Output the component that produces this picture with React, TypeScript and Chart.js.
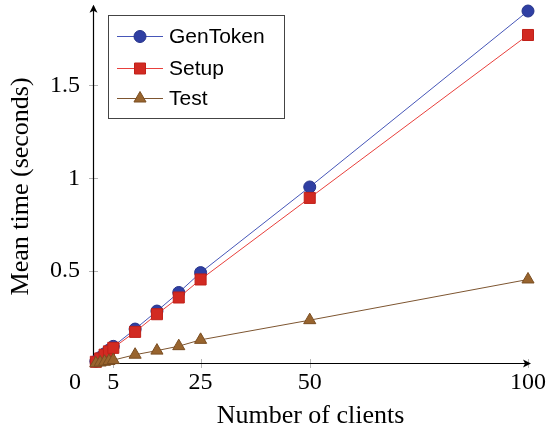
import React, { useEffect, useRef } from "react";
import { Chart, registerables } from "chart.js";

Chart.register(...registerables);

const clients = [1, 2, 3, 4, 5, 10, 15, 20, 25, 50, 100];
const genToken = [0.015, 0.035, 0.055, 0.075, 0.095, 0.188, 0.285, 0.385, 0.492, 0.953, 1.9];
const setup = [0.012, 0.03, 0.05, 0.068, 0.087, 0.173, 0.268, 0.358, 0.455, 0.894, 1.771];
const test = [0.004, 0.008, 0.012, 0.016, 0.021, 0.05, 0.072, 0.096, 0.13, 0.236, 0.455];
const xTicks = [5, 25, 50, 100];
const yTicks = [0.5, 1, 1.5];
const seriesNames = ["GenToken", "Setup", "Test"];

const SERIF = "'Liberation Serif', 'DejaVu Serif', serif";
const SANS = "'Liberation Sans', 'DejaVu Sans', sans-serif";

const styles = [
  { line: "#4656b8", fill: "#2f3fa3", border: "#25338a", shape: "circle" },
  { line: "#e8403c", fill: "#d22a22", border: "#c02018", shape: "rect" },
  { line: "#7d5530", fill: "#98642e", border: "#7a4e22", shape: "triangle" },
];

function drawMarker(ctx: CanvasRenderingContext2D, shape: string, x: number, y: number, fill: string, border: string) {
  ctx.save();
  ctx.fillStyle = fill;
  ctx.strokeStyle = border;
  ctx.lineWidth = 1;
  ctx.beginPath();
  if (shape === "circle") {
    ctx.arc(x, y, 6, 0, Math.PI * 2);
  } else if (shape === "rect") {
    ctx.rect(x - 5.5, y - 5.5, 11, 11);
  } else {
    const r = 7;
    ctx.moveTo(x, y - r);
    ctx.lineTo(x + r * 0.866, y + r * 0.5);
    ctx.lineTo(x - r * 0.866, y + r * 0.5);
    ctx.closePath();
  }
  ctx.fill();
  ctx.stroke();
  ctx.restore();
}

const decorPlugin = {
  id: "decor",
  beforeDatasetsDraw(chart: any) {
    const ctx = chart.ctx as CanvasRenderingContext2D;
    const { left, bottom, top, right } = chart.chartArea;
    const xs = chart.scales.x;
    const ys = chart.scales.y;
    ctx.save();
    // tick marks
    ctx.strokeStyle = "#b4b4b4";
    ctx.lineWidth = 1;
    xTicks.forEach((v) => {
      const px = Math.round(xs.getPixelForValue(v)) + 0.5;
      ctx.beginPath();
      ctx.moveTo(px, bottom - 5);
      ctx.lineTo(px, bottom + 4);
      ctx.stroke();
    });
    yTicks.forEach((v) => {
      const py = Math.round(ys.getPixelForValue(v)) + 0.5;
      ctx.beginPath();
      ctx.moveTo(left - 4, py);
      ctx.lineTo(left + 5, py);
      ctx.stroke();
    });
    // axes
    ctx.strokeStyle = "#000";
    ctx.lineWidth = 1.2;
    const ax = left + 0.5;
    const ay = bottom - 0.5;
    ctx.beginPath();
    ctx.moveTo(ax, ay);
    ctx.lineTo(right + 2, ay);
    ctx.moveTo(ax, ay);
    ctx.lineTo(ax, top - 3);
    ctx.stroke();
    // arrowheads
    ctx.fillStyle = "#000";
    ctx.beginPath();
    ctx.moveTo(right + 3, ay);
    ctx.lineTo(right - 5, ay - 4);
    ctx.lineTo(right - 3, ay);
    ctx.lineTo(right - 5, ay + 4);
    ctx.closePath();
    ctx.fill();
    ctx.beginPath();
    ctx.moveTo(ax, top - 4);
    ctx.lineTo(ax - 4, top + 4);
    ctx.lineTo(ax, top + 2);
    ctx.lineTo(ax + 4, top + 4);
    ctx.closePath();
    ctx.fill();
    // corner zero
    ctx.font = `24px ${SERIF}`;
    ctx.textAlign = "center";
    ctx.textBaseline = "middle";
    ctx.fillStyle = "#000";
    ctx.fillText("0", 75, 383);
    ctx.restore();
  },
  afterDatasetsDraw(chart: any) {
    const ctx = chart.ctx as CanvasRenderingContext2D;
    ctx.save();
    const bx = 108.5, by = 15.5, bw = 176, bh = 103;
    ctx.fillStyle = "#fff";
    ctx.fillRect(bx, by, bw, bh);
    ctx.strokeStyle = "#444";
    ctx.lineWidth = 1;
    ctx.strokeRect(bx, by, bw, bh);
    const rows = [36, 68, 98];
    ctx.font = `21px ${SANS}`;
    ctx.textBaseline = "middle";
    ctx.textAlign = "left";
    seriesNames.forEach((name, i) => {
      const s = styles[i];
      const y = rows[i];
      ctx.strokeStyle = s.line;
      ctx.lineWidth = 1;
      ctx.beginPath();
      ctx.moveTo(117, y + 0.5);
      ctx.lineTo(163, y + 0.5);
      ctx.stroke();
      drawMarker(ctx, s.shape, 140, y + 0.5, s.fill, s.border);
      ctx.fillStyle = "#000";
      ctx.fillText(name, 169, y + 1);
    });
    ctx.restore();
  },
};

export default function App() {
  const ref = useRef<HTMLCanvasElement | null>(null);
  useEffect(() => {
    if (!ref.current) return;
    const mk = (label: string, data: number[], i: number, order: number) => ({
      label,
      data: clients.map((c, k) => ({ x: c, y: data[k] })),
      borderColor: styles[i].line,
      borderWidth: 1,
      backgroundColor: styles[i].fill,
      pointBorderColor: styles[i].border,
      pointBorderWidth: 1,
      pointStyle: styles[i].shape,
      pointRadius: styles[i].shape === "circle" ? 6 : styles[i].shape === "rect" ? 7.8 : 7,
      pointHoverRadius: 6,
      tension: 0,
      clip: false as any,
      order,
    });
    const chart = new Chart(ref.current, {
      type: "line",
      data: {
        datasets: [
          mk(seriesNames[0], genToken, 0, 2),
          mk(seriesNames[1], setup, 1, 1),
          mk(seriesNames[2], test, 2, 0),
        ],
      },
      options: {
        animation: false,
        responsive: false,
        events: [],
        layout: { padding: { top: 7, right: 21, left: 0, bottom: 0 } },
        plugins: { legend: { display: false }, tooltip: { enabled: false } },
        scales: {
          x: {
            type: "linear",
            min: 0.35,
            max: 100,
            grid: { display: false, drawTicks: false },
            border: { display: false },
            afterBuildTicks: (s: any) => {
              s.ticks = xTicks.map((v) => ({ value: v }));
            },
            afterFit: (s: any) => {
              s.height = 65;
              s.paddingLeft = 0;
              s.paddingRight = 0;
            },
            ticks: {
              padding: 4,
              color: "#000",
              font: { family: SERIF, size: 24 },
              maxRotation: 0,
              autoSkip: false,
              callback: (v: any) => String(v),
            },
            title: {
              display: true,
              text: "Number of clients",
              color: "#000",
              font: { family: SERIF, size: 26, lineHeight: 1 },
              padding: { top: 0, bottom: 0 },
            },
          },
          y: {
            type: "linear",
            min: 0,
            max: 1.912,
            grid: { display: false, drawTicks: false },
            border: { display: false },
            afterBuildTicks: (s: any) => {
              s.ticks = yTicks.map((v) => ({ value: v }));
            },
            afterFit: (s: any) => {
              s.width = 93;
              s.paddingTop = 0;
              s.paddingBottom = 0;
            },
            ticks: {
              padding: 13,
              color: "#000",
              font: { family: SERIF, size: 24 },
              autoSkip: false,
              callback: (v: any) => String(v),
            },
            title: {
              display: true,
              text: "Mean time (seconds)",
              color: "#000",
              font: { family: SERIF, size: 26, lineHeight: 1 },
              padding: { top: 8, bottom: 0 },
            },
          },
        },
      },
      plugins: [decorPlugin],
    });
    return () => chart.destroy();
  }, []);
  return (
    <div style={{ position: "fixed", left: 0, top: 0, width: 549, height: 429, background: "#fff" }}>
      <canvas ref={ref} width={549} height={429} />
    </div>
  );
}
